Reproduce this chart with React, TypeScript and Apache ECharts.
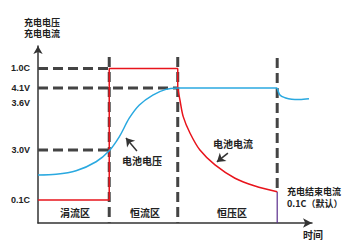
import React, { useEffect, useRef } from "react";
import * as echarts from "echarts";

// Phase boundaries on the time axis (0..100)
const phaseBounds = [26, 51, 87.3];
const phaseNames = ["涓流区", "恒流区", "恒压区"];

// Level axis (0..100)
const levelValues = [13, 41.2, 67.8, 76.3, 87.3];
const levelLabels = ["0.1C", "3.0V", "3.6V", "4.1V", "1.0C"];
const guideTop = 93.8;

// Battery voltage curve (blue): rise, plateau, relaxation
const voltageRiseX = [0, 6.6, 13.9, 21.2, 26, 29.7, 33.3, 37, 41.9, 46.7, 51];
const voltageRiseY = [27.1, 27.5, 29.5, 34.6, 40.8, 48.8, 59.2, 66.7, 72.3, 75.5, 76.3];
const voltageHoldX = [51, 87.3];
const voltageHoldY = [76.3, 76.3];
const voltageRelaxX = [87.3, 88.3, 90.1, 92.6, 95.5, 98.9];
const voltageRelaxY = [76.3, 72.3, 70.8, 69.9, 69.8, 70.2];

// Battery current (red): trickle + constant-current steps
const currentStepX = [0, 26, 26, 51, 51];
const currentStepY = [13, 13, 87.3, 87.3, 76.3];
// Constant-voltage decay
const currentDecayX = [51, 51.8, 53, 55.5, 59.1, 64.6, 71.9, 79.2, 87.3];
const currentDecayY = [76.3, 69.5, 60.1, 50.7, 41.2, 32.8, 25.3, 20.9, 17.7];
const endCurrent = 17.7;

const zip = (xs: number[], ys: number[]) => xs.map((x, i) => [x, ys[i]]);

const DASH = "#444";
const FONT = "'Noto Sans CJK SC', 'Noto Sans', sans-serif";
const RED = "#e8141c";
const BLUE = "#2aa9e0";

function dashed(data: number[][]) {
  return {
    type: "line",
    data,
    symbol: "none",
    silent: true,
    z: 1,
    lineStyle: { color: DASH, width: 3, type: [10, 5] },
  };
}

function curve(data: number[][], color: string, smooth: number | boolean, z: number) {
  return {
    type: "line",
    data,
    symbol: "none",
    smooth,
    silent: true,
    z,
    lineStyle: { color, width: 1.5 },
  };
}

export default function App() {
  const ref = useRef<HTMLDivElement>(null);
  useEffect(() => {
    if (!ref.current) return;
    const chart = echarts.init(ref.current, null, { renderer: "svg" });
    const [b1, b2, b3] = phaseBounds;
    const lvl = (name: string) => levelValues[levelLabels.indexOf(name)];
    const textStyle = (extra: any) => ({
      fontFamily: FONT,
      fontWeight: "bold",
      fontSize: 10,
      fill: "#222",
      ...extra,
    });
    chart.setOption({
      animation: false,
      grid: { left: 38, right: 50, top: 46, bottom: 28 },
      xAxis: {
        type: "value",
        min: 0,
        max: 100,
        splitLine: { show: false },
        axisTick: { show: false },
        axisLabel: { show: false },
        axisLine: {
          show: true,
          onZero: false,
          symbol: ["none", "arrow"],
          symbolSize: [7, 9],
          lineStyle: { color: "#333", width: 1.5 },
        },
      },
      yAxis: {
        type: "value",
        min: 0,
        max: 100,
        splitLine: { show: false },
        axisTick: { show: false },
        axisLine: {
          show: true,
          onZero: false,
          symbol: ["none", "arrow"],
          symbolSize: [7, 8],
          lineStyle: { color: "#333", width: 1.5 },
        },
        axisLabel: {
          customValues: levelValues,
          margin: 8,
          fontSize: 9,
          fontWeight: "bold",
          fontFamily: "'Liberation Sans', sans-serif",
          color: "#222",
          formatter: (v: number) => {
            const i = levelValues.findIndex((x) => Math.abs(x - v) < 1e-6);
            return i >= 0 ? levelLabels[i] : "";
          },
        },
      },
      series: [
        dashed([[0, lvl("1.0C")], [b1, lvl("1.0C")]]),
        dashed([[0, lvl("4.1V")], [b2, lvl("4.1V")]]),
        dashed([[0, lvl("3.0V")], [b1, lvl("3.0V")]]),
        dashed([[b1, guideTop], [b1, 0]]),
        dashed([[b2, guideTop], [b2, 0]]),
        dashed([[b3, guideTop - 0.6], [b3, endCurrent + 1.5]]),
        {
          type: "line",
          data: [[b3, endCurrent], [b3, 0]],
          symbol: "none",
          silent: true,
          z: 3,
          lineStyle: { color: "#5a2d8c", width: 1.2 },
        },
        curve(zip(currentStepX, currentStepY), RED, false, 3),
        curve(zip(currentDecayX, currentDecayY), RED, 0.3, 3),
        curve(zip(voltageRiseX, voltageRiseY), BLUE, 0.3, 4),
        curve(zip(voltageHoldX, voltageHoldY), BLUE, false, 4),
        {
          ...curve(zip(voltageRelaxX, voltageRelaxY), BLUE, 0.3, 4),
          markLine: {
            silent: true,
            symbol: ["none", "arrow"],
            symbolSize: 8,
            label: { show: false },
            lineStyle: { color: "#333", width: 1.5, type: "solid", curveness: 0.2 },
            data: [
              [{ coord: [36.1, 40.7] }, { coord: [32.1, 48] }],
              [{ coord: [69.3, 39.5] }, { coord: [65.3, 34.5] }],
            ],
          },
        },
      ],
      graphic: [
        { type: "text", x: 24, y: 22, style: textStyle({ text: "充电电压", fontSize: 9, textVerticalAlign: "middle" }) },
        { type: "text", x: 24, y: 33.5, style: textStyle({ text: "充电电流", fontSize: 9, textVerticalAlign: "middle" }) },
        { type: "text", x: 75, y: 212, style: textStyle({ text: phaseNames[0], textAlign: "center", textVerticalAlign: "middle" }) },
        { type: "text", x: 145, y: 212, style: textStyle({ text: phaseNames[1], textAlign: "center", textVerticalAlign: "middle" }) },
        { type: "text", x: 232, y: 212, style: textStyle({ text: phaseNames[2], textAlign: "center", textVerticalAlign: "middle" }) },
        { type: "text", x: 142, y: 160, style: textStyle({ text: "电池电压", textAlign: "center", textVerticalAlign: "middle" }) },
        { type: "text", x: 233, y: 143, style: textStyle({ text: "电池电流", textAlign: "center", textVerticalAlign: "middle" }) },
        { type: "text", x: 287, y: 191, style: textStyle({ text: "充电结束电流", fontSize: 9, textVerticalAlign: "middle" }) },
        { type: "text", x: 287, y: 203, style: textStyle({ text: "0.1C（默认）", fontSize: 9, textVerticalAlign: "middle" }) },
        { type: "text", x: 313, y: 234, style: textStyle({ text: "时间", textAlign: "center", textVerticalAlign: "middle" }) },
      ],
    });
    return () => chart.dispose();
  }, []);
  return (
    <div
      ref={ref}
      style={{ position: "absolute", left: 0, top: 0, width: 362, height: 251 }}
    />
  );
}
